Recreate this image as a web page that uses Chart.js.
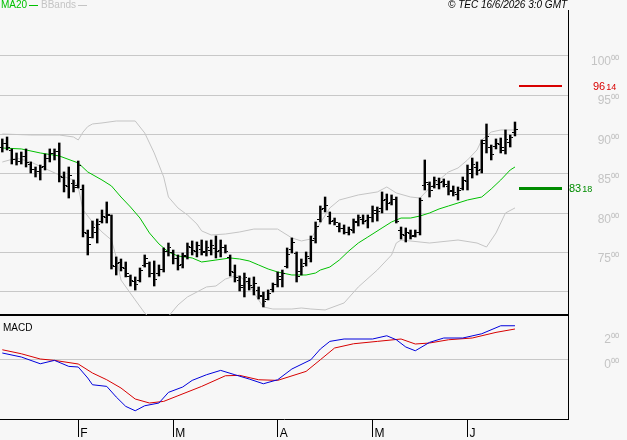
<!DOCTYPE html>
<html lang="en">
<head>
<meta charset="UTF-8">
<title>MA20 / BBands / MACD</title>
<script src="https://cdn.jsdelivr.net/npm/chart.js@4.4.1/dist/chart.umd.min.js"></script>
<style>
  body { margin: 0; background: #f7f7f7; font-family: "Liberation Sans", Arial, sans-serif; }
  #wrap { position: relative; width: 627px; height: 440px; overflow: hidden; }
  canvas { position: absolute; left: 0; }
  #priceChart { top: 0; }
  #macdChart { top: 316px; }
  .txt { position: absolute; font-size: 10px; line-height: 10px; white-space: nowrap; }
  .dash { display: inline-block; width: 9px; height: 1px; vertical-align: middle; margin-left: 2px; }
</style>
</head>
<body>
<div id="wrap">
  <canvas id="priceChart" width="627" height="317"></canvas>
  <canvas id="macdChart" width="627" height="124"></canvas>
  <div class="txt" style="left:1px;top:0;color:#00c000">MA20<span class="dash" style="background:#00c000"></span></div>
  <div class="txt" style="left:41px;top:0;color:#c4c4c4">BBands<span class="dash" style="background:#c4c4c4"></span></div>
  <div class="txt" style="left:448px;top:0;color:#000;font-style:italic">© TEC 16/6/2026 3:0 GMT</div>
  <div class="txt" style="left:3px;top:323px;color:#000">MACD</div>
</div>
<script>
// daily bars, mid Jan -> 15 Jun 2026 (index 0..108)
const opens = [
  88.4, 88.9, 88.0, 86.8, 86.6, 87.2, 86.2, 85.5, 85.3, 85.9,
  87.0, 87.6, 87.8, 84.5, 83.4, 83.8, 83.5, 83.0, 77.4, 76.9,
  77.5, 78.9, 79.5, 79.7, 73.3, 73.7, 73.0, 72.0, 71.3, 71.5,
  73.4, 73.6, 72.3, 72.4, 72.9, 75.1, 75.0, 74.2, 73.5, 74.5,
  75.6, 75.2, 75.4, 75.1, 75.3, 75.5, 75.3, 75.7, 74.4, 72.5,
  71.5, 70.8, 71.3, 70.6, 70.2, 69.4, 69.1, 70.3, 71.0, 71.6,
  73.3, 75.4, 74.9, 72.6, 73.6, 74.2, 76.8, 79.2, 80.6, 79.6,
  79.1, 78.3, 78.1, 77.6, 77.8, 78.8, 79.2, 79.1, 79.4, 80.0,
  80.6, 81.7, 81.3, 81.7, 77.8, 77.2, 77.4, 77.2, 77.6, 83.5,
  83.6, 83.4, 83.7, 84.0, 83.4, 82.9, 82.4, 83.2, 84.0, 85.0,
  85.8, 85.5, 89.2, 88.3, 88.5, 88.7, 88.0, 89.0, 90.2
];
const highs = [
  89.43, 89.68, 88.16, 87.65, 87.77, 88.16, 86.51, 85.87, 86.12, 87.52,
  88.16, 88.16, 88.92, 85.24, 85.87, 84.22, 86.63, 83.59, 77.87, 79.01,
  79.27, 80.41, 81.43, 79.78, 74.45, 74.19, 73.81, 72.16, 71.91, 73.05,
  74.70, 73.81, 73.94, 73.43, 75.59, 76.22, 75.33, 74.70, 74.95, 76.22,
  76.48, 76.35, 76.60, 76.48, 76.60, 77.11, 76.60, 75.97, 74.70, 73.43,
  72.03, 72.41, 71.78, 71.91, 70.64, 70.00, 70.26, 71.14, 72.54, 72.79,
  75.59, 76.86, 75.08, 74.19, 75.08, 77.11, 78.89, 80.92, 82.06, 80.16,
  79.39, 78.76, 78.51, 78.25, 79.27, 79.78, 79.78, 79.78, 80.92, 80.79,
  82.70, 82.44, 82.32, 82.06, 78.25, 78.13, 77.87, 77.87, 81.93, 86.76,
  83.97, 84.60, 84.47, 84.35, 84.09, 83.46, 83.33, 84.60, 86.12, 87.01,
  86.51, 89.30, 91.33, 88.66, 89.43, 89.55, 90.57, 89.93, 91.58
];
const lows = [
  87.77, 88.03, 86.25, 86.12, 86.25, 85.87, 85.11, 84.60, 84.22, 85.49,
  86.51, 86.76, 83.97, 82.70, 81.93, 82.70, 83.20, 76.99, 74.70, 76.86,
  76.22, 78.76, 78.76, 72.92, 72.16, 72.67, 71.91, 70.76, 70.25, 71.27,
  73.17, 71.91, 70.76, 72.03, 72.54, 74.57, 73.56, 72.79, 73.05, 74.19,
  74.70, 74.45, 74.70, 74.57, 74.70, 74.32, 74.45, 74.95, 72.03, 71.27,
  70.13, 69.37, 70.25, 69.62, 69.11, 68.10, 68.99, 70.00, 70.64, 70.64,
  73.05, 74.95, 71.27, 72.16, 73.30, 73.81, 76.22, 78.89, 80.16, 78.63,
  78.51, 77.62, 77.36, 77.24, 77.49, 78.38, 78.63, 78.13, 78.89, 79.01,
  80.03, 80.41, 81.05, 78.76, 76.73, 76.35, 76.73, 76.98, 77.24, 82.95,
  82.06, 83.20, 83.08, 83.33, 82.32, 82.19, 81.68, 82.95, 82.95, 84.47,
  84.85, 85.11, 87.65, 86.76, 88.16, 87.65, 87.52, 88.41, 89.81
];
const closes = [
  88.9, 88.3, 86.8, 86.6, 87.2, 86.4, 85.6, 85.3, 85.8, 87.0,
  87.6, 87.8, 84.6, 83.5, 84.8, 83.3, 86.0, 77.5, 76.0, 78.2,
  78.6, 79.6, 79.9, 73.4, 73.6, 73.1, 72.4, 71.4, 70.9, 72.7,
  74.3, 72.4, 71.6, 72.8, 75.2, 75.6, 74.3, 73.4, 74.6, 75.8,
  75.3, 75.9, 75.0, 75.6, 75.9, 75.1, 75.6, 75.2, 72.6, 71.9,
  70.6, 71.8, 70.8, 71.1, 69.5, 68.8, 69.8, 70.9, 72.0, 72.4,
  74.8, 76.3, 72.0, 73.2, 74.5, 76.6, 78.3, 80.5, 81.0, 79.0,
  78.8, 78.0, 77.6, 77.9, 79.0, 79.4, 79.0, 79.5, 80.4, 80.2,
  81.6, 81.2, 81.8, 79.0, 77.3, 77.6, 77.1, 77.6, 81.6, 83.9,
  82.9, 84.1, 83.9, 83.6, 82.8, 82.6, 82.9, 84.1, 85.6, 86.2,
  85.4, 88.9, 89.7, 87.4, 88.9, 88.3, 89.4, 89.6, 90.6
];

// [bar index, value]
const ma20 = [
  [0, 88.28], [4, 88.16], [8, 87.65], [12, 87.27], [16, 86.38], [18, 85.24], [21, 84.22],
  [23, 83.46], [25, 82.06], [27, 80.79], [29, 79.39], [31, 77.49], [33, 76.10], [35, 75.08],
  [37, 74.57], [40, 74.32], [42, 73.81], [45, 74.06], [48, 74.32], [50, 74.19], [52, 73.94],
  [54, 73.43], [56, 72.92], [58, 72.54], [61, 72.16], [64, 72.16], [66, 72.41], [67, 72.79],
  [69, 73.17], [71, 74.06], [73, 75.21], [75, 76.22], [77, 76.98], [80, 78.13], [82, 78.89],
  [84, 79.39], [86, 79.39], [88, 79.65], [90, 80.03], [92, 80.54], [94, 80.92], [96, 81.30],
  [98, 81.68], [101, 82.06], [103, 83.08], [105, 84.22], [107, 85.49], [108, 85.87]
];
const bbUpper = [
  [0, 90.06], [6, 89.93], [12, 89.93], [15, 89.68], [16, 89.30], [17, 90.30], [18, 91.00],
  [19, 91.33], [21, 91.46], [24, 91.71], [28, 91.71], [30, 90.19], [32, 87.65], [34, 84.60],
  [35, 82.06], [37, 80.67], [39, 79.78], [41, 78.63], [42, 77.75], [44, 77.24], [47, 77.36],
  [50, 77.62], [53, 77.99], [58, 77.99], [61, 76.86], [63, 76.48], [65, 76.73], [67, 78.76],
  [69, 80.67], [71, 81.68], [75, 82.32], [79, 82.70], [81, 83.33], [83, 82.57], [86, 82.06],
  [88, 81.93], [90, 83.20], [92, 84.22], [94, 85.24], [96, 85.74], [98, 86.76], [100, 88.03],
  [101, 89.30], [103, 90.31], [105, 90.57], [108, 90.57]
];
const bbLower = [
  [0, 86.50], [3, 87.01], [6, 86.50], [12, 84.85], [15, 84.22], [16, 83.33], [17, 80.41],
  [19, 78.89], [21, 77.62], [23, 76.60], [24, 74.45], [25, 71.52], [28, 68.99], [30, 67.33],
  [32, 66.19], [34, 66.19], [37, 68.35], [39, 69.37], [41, 70.00], [43, 70.64], [45, 70.76],
  [47, 71.65], [49, 72.03], [50, 72.03], [52, 70.89], [54, 68.99], [55, 68.10], [57, 67.84],
  [61, 67.84], [63, 67.97], [65, 67.84], [68, 67.72], [72, 68.61], [75, 70.64], [79, 72.79],
  [82, 74.70], [83, 76.22], [84, 76.60], [90, 76.22], [96, 76.60], [100, 76.22], [102, 75.71],
  [104, 77.49], [106, 80.03], [108, 80.67]
];
const macdLine = [
  [0, 0.48], [4, 0.16], [8, -0.38], [11, -0.11], [14, -0.59], [16, -0.64], [18, -1.52],
  [19, -2.06], [22, -2.19], [24, -3.04], [26, -3.79], [28, -4.14], [30, -3.74], [33, -3.52],
  [35, -2.67], [38, -2.24], [40, -1.71], [43, -1.26], [46, -0.91], [49, -1.26], [52, -1.60],
  [55, -1.98], [58, -1.66], [61, -0.80], [65, -0.06], [67, 0.80], [69, 1.41], [72, 1.60],
  [78, 1.60], [81, 1.86], [83, 1.54], [85, 0.96], [87, 0.66], [90, 1.33], [93, 1.68],
  [97, 1.68], [101, 2.02], [105, 2.66], [108, 2.66]
];
const signalLine = [
  [0, 0.74], [4, 0.42], [8, 0.00], [11, -0.11], [16, -0.40], [19, -1.12], [22, -1.66],
  [25, -2.32], [28, -3.20], [31, -3.52], [34, -3.39], [37, -2.94], [42, -2.19], [47, -1.34],
  [50, -1.31], [54, -1.66], [58, -1.71], [64, -0.99], [67, -0.06], [70, 0.88], [74, 1.22],
  [79, 1.41], [84, 1.60], [87, 1.20], [90, 1.28], [94, 1.54], [99, 1.68], [104, 2.13],
  [108, 2.40]
];

const monthStarts = [16, 36, 58, 78, 98];
const monthLabels = ['F', 'M', 'A', 'M', 'J'];
const priceTicks = [70, 75, 80, 85, 90, 95, 100];
const macdTicks = [0, 2];
const resistance = 96.14;
const support = 83.18;

const X_MIN = -0.485, X_MAX = 119.17;
const GRID = '#c8c8c8';
const pts = arr => arr.map(p => ({ x: p[0], y: p[1] }));
const sup = '\u2070\u2070';

// keep the axis boxes from pushing the plot area around
function fixY(s) { s.width = 51; s.paddingTop = 0; s.paddingBottom = 0; }
function fixX(h) {
  return s => { s.height = h; s.paddingLeft = 0; s.paddingRight = 0; };
}

// tiny left/right tick images for open and close
function tickImg(side) {
  const c = document.createElement('canvas');
  c.width = 6; c.height = 1;
  const g = c.getContext('2d');
  g.fillStyle = '#000';
  g.fillRect(side === 'open' ? 0 : 4, 0, 2, 1);
  return c;
}
const openImg = tickImg('open');
const closeImg = tickImg('close');

const levelPlugin = {
  id: 'levels',
  afterDraw(chart) {
    const ctx = chart.ctx;
    const y = chart.scales.y;
    const right = chart.chartArea.right;
    const draw = (value, color, w, textX) => {
      const py = Math.round(y.getPixelForValue(value));
      ctx.save();
      ctx.fillStyle = color;
      ctx.fillRect(right - 49, py - Math.floor(w / 2), 43, w);
      const parts = value.toFixed(2).split('.');
      ctx.textBaseline = 'alphabetic';
      ctx.font = '11px "Liberation Sans"';
      ctx.fillText(parts[0], textX, py + 4);
      const w0 = ctx.measureText(parts[0]).width;
      ctx.font = '9px "Liberation Sans"';
      ctx.fillText(parts[1], textX + w0 + 1, py + 4);
      ctx.restore();
    };
    draw(resistance, '#d80000', 2, 593);
    draw(support, '#008c00', 3, 569);
  }
};

new Chart(document.getElementById('priceChart'), {
  type: 'line',
  data: {
    datasets: [
      {
        data: opens.map((v, i) => ({ x: i, y: v })),
        showLine: false, pointStyle: openImg, pointRadius: 3
      },
      {
        data: closes.map((v, i) => ({ x: i, y: v })),
        showLine: false, pointStyle: closeImg, pointRadius: 3
      },
      {
        type: 'bar', label: 'OHLC',
        data: highs.map((h, i) => ({ x: i, y: [lows[i], h] })),
        backgroundColor: '#000', borderWidth: 0, barThickness: 1.8
      },
      {
        label: 'MA20', data: pts(ma20),
        borderColor: '#00c000', borderWidth: 1, pointRadius: 0
      },
      {
        label: 'BBands', data: pts(bbUpper),
        borderColor: '#c4c4c4', borderWidth: 1, pointRadius: 0
      },
      {
        label: 'BBands low', data: pts(bbLower),
        borderColor: '#c4c4c4', borderWidth: 1, pointRadius: 0
      }
    ]
  },
  plugins: [levelPlugin],
  options: {
    responsive: false,
    animation: false,
    events: [],
    layout: { autoPadding: false, padding: { top: 10, right: 8, left: 0, bottom: 2 } },
    plugins: { legend: { display: false }, tooltip: { enabled: false } },
    scales: {
      x: {
        type: 'linear', min: X_MIN, max: X_MAX, offset: false,
        ticks: { display: false },
        grid: { display: false },
        border: { display: true, color: '#000', width: 2 },
        afterFit: fixX(0)
      },
      y: {
        position: 'right', min: 67.08, max: 105.8,
        afterBuildTicks: s => { s.ticks = priceTicks.map(v => ({ value: v })); },
        ticks: {
          callback: v => v === 70 ? '' : v + sup,
          color: '#c4c4c4', font: { family: 'Liberation Sans', size: 12 },
          crossAlign: 'far', padding: 21, labelOffset: 6
        },
        grid: { color: GRID, drawTicks: false },
        border: { display: true, color: '#000', width: 1 },
        afterFit: fixY
      }
    }
  }
});

new Chart(document.getElementById('macdChart'), {
  type: 'line',
  data: {
    datasets: [
      { label: 'MACD', data: pts(macdLine), borderColor: 'rgb(0,0,220)', borderWidth: 1, pointRadius: 0 },
      { label: 'Signal', data: pts(signalLine), borderColor: 'rgb(215,0,0)', borderWidth: 1, pointRadius: 0 }
    ]
  },
  options: {
    responsive: false,
    animation: false,
    events: [],
    layout: { autoPadding: false, padding: { top: 0, right: 8, left: 0, bottom: 0 } },
    plugins: { legend: { display: false }, tooltip: { enabled: false } },
    scales: {
      x: {
        type: 'linear', min: X_MIN, max: X_MAX, offset: false,
        afterBuildTicks: s => { s.ticks = monthStarts.map(v => ({ value: v })); },
        ticks: {
          callback: v => monthLabels[monthStarts.indexOf(v)],
          autoSkip: false, maxRotation: 0, align: 'start',
          color: '#000', font: { family: 'Liberation Sans', size: 12 },
          padding: -11, labelOffset: 2
        },
        grid: { drawOnChartArea: false, drawTicks: true, tickLength: 18, color: '#000' },
        border: { display: true, color: '#000', width: 1 },
        afterFit: fixX(21)
      },
      y: {
        position: 'right', min: -4.8, max: 3.44,
        afterBuildTicks: s => { s.ticks = macdTicks.map(v => ({ value: v })); },
        ticks: {
          callback: v => v + sup,
          color: '#c4c4c4', font: { family: 'Liberation Sans', size: 12 },
          crossAlign: 'far', padding: 35, labelOffset: 6
        },
        grid: { color: c => (c.tick && c.tick.value === 0) ? GRID : 'rgba(0,0,0,0)', drawTicks: false },
        border: { display: true, color: '#000', width: 1 },
        afterFit: fixY
      }
    }
  }
});
</script>
</body>
</html>
